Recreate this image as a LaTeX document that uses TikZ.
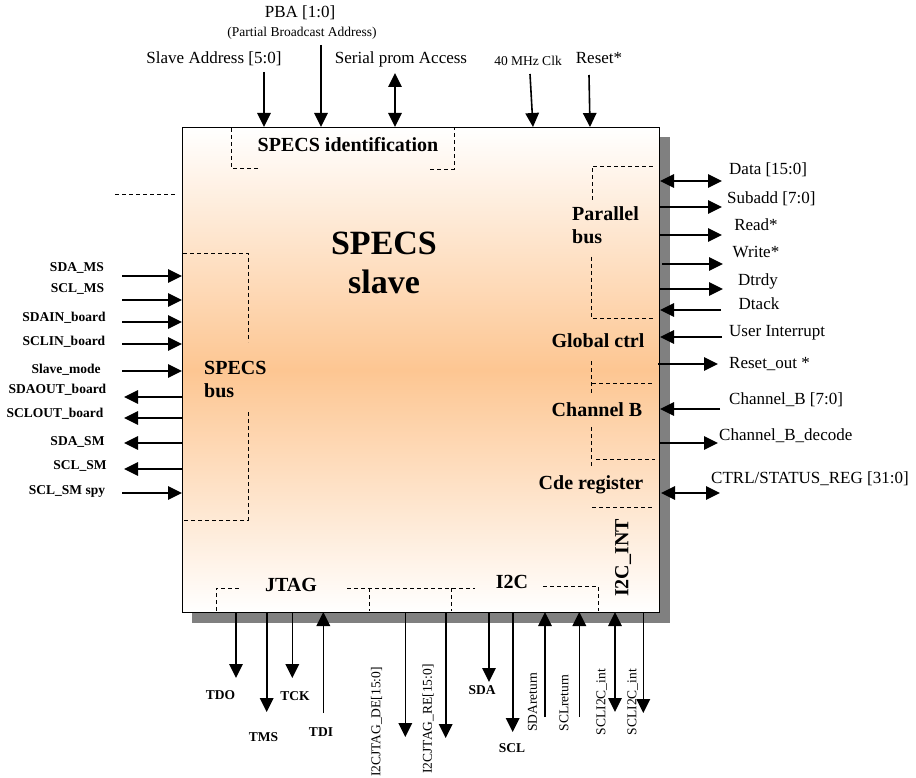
\documentclass[tikz,border=0pt]{standalone}
\usepackage{fontspec}
\setmainfont{Liberation Serif}
\usetikzlibrary{arrows.meta}
\definecolor{peach}{RGB}{253,198,146}
\definecolor{shad}{RGB}{128,128,128}
\begin{document}
\begin{tikzpicture}[x=1pt,y=-1pt,
 txt/.style={inner sep=0pt, text height=0.66em, text depth=0pt},
 lbl/.style={txt, font=\fontsize{17}{20}\selectfont},
 sml/.style={txt, font=\fontsize{13.5}{16}\selectfont},
 smb/.style={txt, font=\fontsize{13.5}{16}\selectfont\bfseries},
 inb/.style={txt, font=\fontsize{20}{24}\selectfont\bfseries},
 bigb/.style={txt, font=\fontsize{34}{40}\selectfont\bfseries},
 sig/.style={line width=1.6pt, -{Triangle[length=14pt,width=13.5pt]}},
 bsig/.style={line width=1.6pt, {Triangle[length=14pt,width=13.5pt]}-{Triangle[length=14pt,width=13.5pt]}},
 dsh/.style={line width=0.8pt, dash pattern=on 4pt off 3pt},
]
\useasboundingbox (0,0) rectangle (916,778);
% shadow and box
\node[fill=shad, minimum width=478pt, minimum height=486pt, inner sep=0pt, anchor=north west] (shadow) at (192,137) {};
\node[draw, line width=1.2pt, minimum width=477pt, minimum height=485pt, inner sep=0pt, anchor=north west,
  top color=white, bottom color=white, middle color=peach] (box) at (182,127) {};

% inner dashed sub-blocks
\draw[dsh] (258,168) -- (231,168) -- (231,128);
\draw[dsh] (430,169) -- (454,169) -- (454,128);
\draw[dsh] (183,253) -- (248,253) -- (248,342);
\draw[dsh] (248,412) -- (248,520) -- (183,520);
\draw[dsh] (115,194) -- (175,194);
\draw[dsh] (592,200) -- (592,166) -- (655,166);
\draw[dsh] (591,257) -- (591,318) -- (655,318);
\draw[dsh] (591,361) -- (591,393);
\draw[dsh] (592,383) -- (653,383);
\draw[dsh] (591,427) -- (591,468);
\draw[dsh] (596,459) -- (655,459);
\draw[dsh] (592,507) -- (653,507);
\draw[dsh] (216,611) -- (216,588) -- (240,588);
\draw[dsh] (347,588) -- (475,588);
\draw[dsh] (369,588) -- (369,611);
\draw[dsh] (451,588) -- (451,611);
\draw[dsh] (543,586) -- (598,586) -- (598,611);

% inner labels
\node[inb] (ident) at (348,148) {SPECS identification};
\node[bigb] (title1) at (384,251) {SPECS};
\node[bigb] (title2) at (384,290) {slave};
\node[inb, anchor=west] (par1) at (572,217) {Parallel};
\node[inb, anchor=west] (par2) at (572,240) {bus};
\node[inb] (glob) at (598,344) {Global ctrl};
\node[inb] (chb) at (597,413) {Channel B};
\node[inb] (cde) at (591,486) {Cde register};
\node[inb, anchor=west] (sb1) at (204,371) {SPECS};
\node[inb, anchor=west] (sb2) at (204,394) {bus};
\node[inb, rotate=90] (i2cint) at (625,558) {I2C\_INT};
\node[inb] (jtag) at (291,588) {JTAG};
\node[inb] (i2c) at (512,585) {I2C};

% top signals
\node[lbl] (tSA) at (214,60) {Slave Address [5:0]};
\node[lbl] (tPBA) at (300,14) {PBA [1:0]};
\node[sml] (tPBA2) at (302,33) {(Partial Broadcast Address)};
\node[lbl] (tSP) at (401,60) {Serial prom Access};
\node[sml] (tCLK) at (528,62) {40 MHz Clk};
\node[lbl] (tRST) at (599,60) {Reset*};
\foreach \n/\xa/\ya/\xb/\yb in {SA/264/72/264/127, PBA/321/45/321/127, CLK/530/74/533/127, RST/589/75/590/127}{
  \coordinate (s\n) at (\xa,\ya); \coordinate (e\n) at (\xb,\yb);
  \draw[sig] (s\n) -- (e\n);
}
\coordinate (sSP) at (395,73); \coordinate (eSP) at (395,127);
\draw[bsig] (sSP) -- (eSP);

% left signals
\node[smb] (lSDAMS) at (77,268) {SDA\_MS};
\node[smb] (lSCLMS) at (77.5,289) {SCL\_MS};
\node[smb] (lSDAIN) at (64,318) {SDAIN\_board};
\node[smb] (lSCLIN) at (64,342) {SCLIN\_board};
\node[smb] (lSLV) at (66,370) {Slave\_mode};
\node[smb] (lSDAOUT) at (57.5,390) {SDAOUT\_board};
\node[smb] (lSCLOUT) at (55,414) {SCLOUT\_board};
\node[smb] (lSDASM) at (77.5,442) {SDA\_SM};
\node[smb] (lSCLSM) at (80,466) {SCL\_SM};
\node[smb] (lSPY) at (67,491) {SCL\_SM spy};
\foreach \n/\y in {1/276, 2/300, 3/322, 4/344, 5/371, 6/493}{
  \coordinate (li\n) at (122,\y); \coordinate (lb\n) at (182,\y);
  \draw[sig] (li\n) -- (lb\n);
}
\foreach \n/\y in {7/397, 8/418, 9/443, 10/469}{
  \coordinate (li\n) at (124,\y); \coordinate (lb\n) at (182,\y);
  \draw[sig] (lb\n) -- (li\n);
}

% right signals
\node[lbl, anchor=west] (rDATA) at (729,171) {Data [15:0]};
\node[lbl, anchor=west] (rSUB) at (727,200) {Subadd [7:0]};
\node[lbl] (rRD) at (756,227) {Read*};
\node[lbl] (rWR) at (756,254) {Write*};
\node[lbl] (rDTR) at (758,282) {Dtrdy};
\node[lbl] (rDTA) at (759,306) {Dtack};
\node[lbl, anchor=west] (rUI) at (729,333) {User Interrupt};
\node[lbl, anchor=west] (rRO) at (729,365) {Reset\_out *};
\node[lbl, anchor=west] (rCB) at (729,401) {Channel\_B [7:0]};
\node[lbl, anchor=west] (rCBD) at (719,437) {Channel\_B\_decode};
\node[lbl, anchor=west] (rCTRL) at (711,480) {CTRL/STATUS\_REG [31:0]};
\foreach \n/\xa/\y/\xb in {SUB/659/207/722, RD/659/235/722, WR/662/264/723, DTR/659/289/723, RO/658/364/718, CBD/659/443/718, DTA/721/310/660, UI/722/337/660, CB/720/409/660}{
  \coordinate (rs\n) at (\xa,\y); \coordinate (re\n) at (\xb,\y);
  \draw[sig] (rs\n) -- (re\n);
}
\coordinate (rsDATA) at (660,181); \coordinate (reDATA) at (722,181);
\draw[bsig] (rsDATA) -- (reDATA);
\coordinate (rsCTRL) at (661,493); \coordinate (reCTRL) at (720,493);
\draw[bsig] (rsCTRL) -- (reCTRL);

% bottom signals
\node[smb] (bTDO) at (220.5,696) {TDO};
\node[smb] (bTMS) at (263.5,738) {TMS};
\node[smb] (bTCK) at (295,697) {TCK};
\node[smb] (bTDI) at (321,733) {TDI};
\node[smb] (bSDA) at (482,691) {SDA};
\node[smb] (bSCL) at (512,749) {SCL};
\node[sml, rotate=90] (bDE) at (377,722) {I2CJTAG\_DE[15:0]};
\node[sml, rotate=90] (bRE) at (428.5,719) {I2CJTAG\_RE[15:0]};
\node[sml, rotate=90] (bSDAR) at (533.5,702) {SDAreturn};
\node[sml, rotate=90] (bSCLR) at (565,703) {SCLreturn};
\node[sml, rotate=90] (bI2C1) at (602,702) {SCLI2C\_int};
\node[sml, rotate=90] (bI2C2) at (633,702) {SCLI2C\_int};
\foreach \n/\x/\ya/\yb in {TDO/236/612/678, TMS/266.7/612/712, TCK/292.3/612/678, DE/405.3/612/737, RE/445.7/612/738, SDA/489/612/682, SCL/512.7/612/732, I2C2/643.3/612/713, TDI/323.3/713/612, SDAR/545/717/612, SCLR/579.3/717/612}{
  \coordinate (bs\n) at (\x,\ya); \coordinate (be\n) at (\x,\yb);
  \draw[sig] (bs\n) -- (be\n);
}
\coordinate (bsI2C1) at (615,612); \coordinate (beI2C1) at (615,712);
\draw[bsig] (bsI2C1) -- (beI2C1);
\end{tikzpicture}
\end{document}
